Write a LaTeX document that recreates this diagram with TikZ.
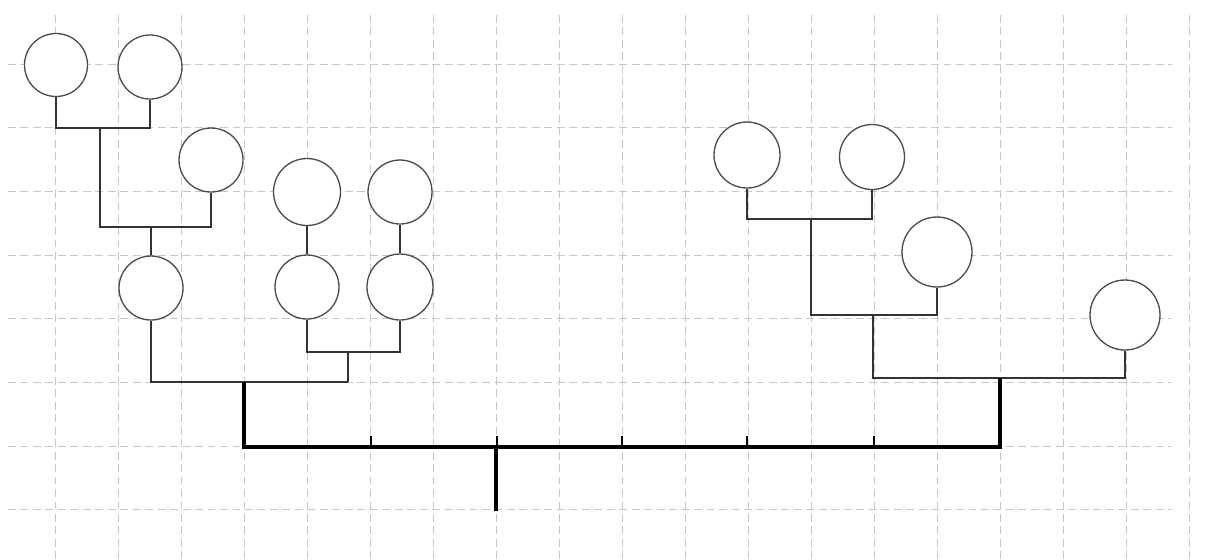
\documentclass[tikz,border=0pt]{standalone}
\begin{document}
\begin{tikzpicture}[x=0.02cm,y=-0.02cm,
  gridline/.style={draw=black!22,line width=0.55pt,dash pattern=on 4.5pt off 2.6pt},
  person/.style={circle,draw=black!70,line width=0.75pt,inner sep=0pt,fill=white},
  link/.style={draw=black!80,line width=0.85pt},
  trunk/.style={draw=black,line width=2.5pt},
  tick/.style={draw=black,line width=0.7pt}]
\useasboundingbox (0,0) rectangle (1216,559);
\fill[white] (0,0) rectangle (1216,559);

% background grid
\foreach \k in {0,...,18}
  \draw[gridline] (55+63*\k,15) -- (55+63*\k,559);
\foreach \k in {0,...,7}
  \draw[gridline] (8,64+63.7*\k) -- (1172,64+63.7*\k);

% left family
\node[person,minimum size=1.26cm] (a1) at (56,65) {};
\node[person,minimum size=1.28cm] (a2) at (150,67) {};
\node[person,minimum size=1.28cm] (a3) at (211,160) {};
\node[person,minimum size=1.34cm] (a4) at (307,192) {};
\node[person,minimum size=1.28cm] (a5) at (400,192) {};
\node[person,minimum size=1.28cm] (a6) at (151,288) {};
\node[person,minimum size=1.28cm] (a7) at (307,287) {};
\node[person,minimum size=1.32cm] (a8) at (400,287) {};

\coordinate (ja) at (100,128);
\coordinate (jb) at (100,227);
\coordinate (jc) at (151,227);
\coordinate (jd) at (354,352);
\coordinate (je) at (244,382);
\coordinate (jf) at (348,382);

\draw[link] (a1.south) |- (ja) -| (a2.south);
\draw[link] (ja) -- (jb) -| (a3.south);
\draw[link] (jc) -- (a6.north);
\draw[link] (a4.south) -- (a7.north);
\draw[link] (a5.south) -- (a8.north);
\draw[link] (a7.south) |- (jd) -| (a8.south);
\draw[link] (jd -| jf) -- (jf);
\draw[link] (a6.south) |- (jf);

% right family
\node[person,minimum size=1.32cm] (b1) at (747,155) {};
\node[person,minimum size=1.30cm] (b2) at (872,157) {};
\node[person,minimum size=1.40cm] (b3) at (937,252) {};
\node[person,minimum size=1.40cm] (b4) at (1125,315) {};

\coordinate (ka) at (811,219);
\coordinate (kb) at (811,315);
\coordinate (kc) at (873,378);
\coordinate (kd) at (1000,378);

\draw[link] (b1.south) |- (ka) -| (b2.south);
\draw[link] (ka) -- (kb) -| (b3.south);
\draw[link] (kb -| kc) -- (kc) -| (b4.south);

% joining line
\coordinate (ta) at (244,447);
\coordinate (tb) at (1000,447);
\coordinate (root) at (496,447);
\coordinate (base) at (496,511);
\draw[trunk,line join=miter] (je) -- (ta) -- (tb) -- (kd);
\draw[trunk] (root) -- (base);
\foreach \x in {371,497,622,747,874}
  \draw[tick] (\x,436) -- (\x,447);
\end{tikzpicture}
\end{document}
